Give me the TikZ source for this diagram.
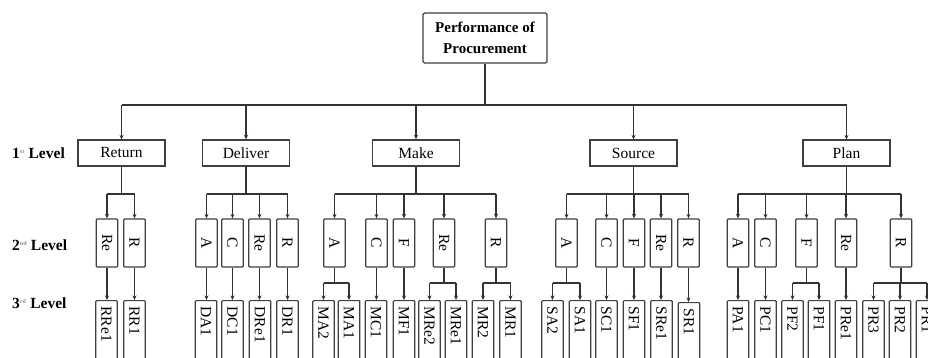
\documentclass[tikz,border=0pt]{standalone}
\usepackage{fontspec}
\setmainfont{Liberation Serif}
\usetikzlibrary{arrows.meta}
\tikzset{
  ln/.style={draw=black!80, line width=1.35pt},
  arr/.style={ln, -{Stealth[length=4.5pt,width=4pt]}},
  topbox/.style={draw=black!75, line width=1.2pt, rounded corners=1.5pt, minimum width=124pt, minimum height=50pt, inner sep=0pt, align=center, font=\fontsize{15}{21}\selectfont\bfseries},
  lvone/.style={draw=black!75, line width=1.2pt, minimum width=87pt, minimum height=26pt, inner sep=0pt, font=\fontsize{15.5}{16}\selectfont},
  lvtwo/.style={draw=black!75, line width=1.2pt, rounded corners=1pt, minimum width=21.5pt, minimum height=48pt, inner sep=0pt, font=\fontsize{15.5}{16}\selectfont},
  lvthree/.style={draw=black!75, line width=1.2pt, rounded corners=1pt, anchor=north, minimum width=21.5pt, minimum height=82pt, inner sep=0pt, font=\fontsize{15.5}{16}\selectfont},
  lvlab/.style={anchor=west, inner sep=0pt, font=\fontsize{15.5}{16}\selectfont\bfseries},
}
\newcommand{\vt}[1]{\rotatebox{-90}{#1}}
\newcommand{\vtt}[1]{\rotatebox{-90}{\makebox[70pt][l]{#1}}}
\newcommand{\sups}[1]{\textsuperscript{\textcolor{black!45}{\fontsize{6}{6}\selectfont #1}}}
\begin{document}
\begin{tikzpicture}[x=1pt,y=-1pt]
\useasboundingbox (0,0) rectangle (928,358);
\clip (0,0) rectangle (928,358);
\fill[white] (0,0) rectangle (928,358);
% top
\node[topbox] (top) at (485,38) {Performance of\\Procurement};
% level labels
\node[lvlab] (l1) at (12,153) {1\sups{st} Level};
\node[lvlab] (l2) at (12,245) {2\sups{nd} Level};
\node[lvlab] (l3) at (12,303) {3\sups{rd} Level};
% level 1
\node[lvone] (ret) at (121.5,153) {Return};
\node[lvone] (del) at (246,153) {Deliver};
\node[lvone] (mak) at (416,153) {Make};
\node[lvone] (sou) at (633.5,153) {Source};
\node[lvone] (pla) at (846.5,153) {Plan};
\coordinate (b0) at (0,105);
\coordinate (b1) at (0,194);
\coordinate (b2) at (0,283);
\draw[ln] (top.south) -- (top.south |- b0);
\draw[ln] (ret.north |- b0) -- (pla.north |- b0);
\foreach \n in {ret,del,mak,sou,pla} \draw[arr] (\n.north |- b0) -- (\n.north);
% level 2
\node[lvtwo] (rRe) at (107,243) {\vt{Re}};
\node[lvtwo] (rR) at (134.5,243) {\vt{R}};
\node[lvtwo] (dA) at (206.5,243) {\vt{A}};
\node[lvtwo] (dC) at (232.5,243) {\vt{C}};
\node[lvtwo] (dRe) at (259.5,243) {\vt{Re}};
\node[lvtwo] (dR) at (287.5,243) {\vt{R}};
\node[lvtwo] (mA) at (334.5,243) {\vt{A}};
\node[lvtwo] (mC) at (376.5,243) {\vt{C}};
\node[lvtwo] (mF) at (404,243) {\vt{F}};
\node[lvtwo] (mRe) at (444,243) {\vt{Re}};
\node[lvtwo] (mR) at (496,243) {\vt{R}};
\node[lvtwo] (sA) at (566.5,243) {\vt{A}};
\node[lvtwo] (sC) at (606.5,243) {\vt{C}};
\node[lvtwo] (sF) at (634,243) {\vt{F}};
\node[lvtwo] (sRe) at (661,243) {\vt{Re}};
\node[lvtwo] (sR) at (688.5,243) {\vt{R}};
\node[lvtwo] (pA) at (738,243) {\vt{A}};
\node[lvtwo] (pC) at (765.5,243) {\vt{C}};
\node[lvtwo] (pF) at (806.5,243) {\vt{F}};
\node[lvtwo] (pRe) at (846,243) {\vt{Re}};
\node[lvtwo] (pR) at (901,243) {\vt{R}};
% level1 -> level2 buses
\foreach \p/\a/\z/\kids in {ret/rRe/rR/{rRe,rR}, del/dA/dR/{dA,dC,dRe,dR}, mak/mA/mR/{mA,mC,mF,mRe,mR}, sou/sA/sR/{sA,sC,sF,sRe,sR}, pla/pA/pR/{pA,pC,pF,pRe,pR}} {
  \draw[ln] (\p.south) -- (\p.south |- b1);
  \draw[ln] (\a.north |- b1) -- (\z.north |- b1);
  \foreach \k in \kids \draw[arr] (\k.north |- b1) -- (\k.north);
}
% level 3
\node[lvthree] (RRe1) at (106.5,300) {\vtt{RRe1}};
\node[lvthree] (RR1) at (134.5,300) {\vtt{RR1}};
\node[lvthree] (DA1) at (206,300) {\vtt{DA1}};
\node[lvthree] (DC1) at (232.5,300) {\vtt{DC1}};
\node[lvthree] (DRe1) at (260,300) {\vtt{DRe1}};
\node[lvthree] (DR1) at (287.5,300) {\vtt{DR1}};
\node[lvthree] (MA2) at (323.5,300) {\vtt{MA2}};
\node[lvthree] (MA1) at (349,300) {\vtt{MA1}};
\node[lvthree] (MC1) at (376,300) {\vtt{MC1}};
\node[lvthree] (MF1) at (404,300) {\vtt{MF1}};
\node[lvthree] (MRe2) at (429.5,300) {\vtt{MRe2}};
\node[lvthree] (MRe1) at (456,300) {\vtt{MRe1}};
\node[lvthree] (MR2) at (483,300) {\vtt{MR2}};
\node[lvthree] (MR1) at (510.5,300) {\vtt{MR1}};
\node[lvthree] (SA2) at (552.5,300) {\vtt{SA2}};
\node[lvthree] (SA1) at (580,300) {\vtt{SA1}};
\node[lvthree] (SC1) at (606.5,300) {\vtt{SC1}};
\node[lvthree] (SF1) at (634,300) {\vtt{SF1}};
\node[lvthree] (SRe1) at (661.5,300) {\vtt{SRe1}};
\node[lvthree] (SR1) at (689,302) {\vtt{SR1}};
\node[lvthree] (PA1) at (738,300) {\vtt{PA1}};
\node[lvthree] (PC1) at (765.5,300) {\vtt{PC1}};
\node[lvthree] (PF2) at (792.5,300) {\vtt{PF2}};
\node[lvthree] (PF1) at (819,300) {\vtt{PF1}};
\node[lvthree] (PRe1) at (846,300) {\vtt{PRe1}};
\node[lvthree] (PR3) at (873.5,300) {\vtt{PR3}};
\node[lvthree] (PR2) at (900,300) {\vtt{PR2}};
\node[lvthree] (PR1) at (927,300) {\vtt{PR1}};
% straight links
\foreach \a/\b in {rRe/RRe1, rR/RR1, dA/DA1, dC/DC1, dRe/DRe1, dR/DR1, mC/MC1, mF/MF1, sC/SC1, sF/SF1, sRe/SRe1, sR/SR1, pA/PA1, pC/PC1, pRe/PRe1}
  \draw[arr] (\a.south) -- (\a.south |- \b.north);
% sub buses
\foreach \p/\a/\z/\kids in {mA/MA2/MA1/{MA2,MA1}, mRe/MRe2/MRe1/{MRe2,MRe1}, mR/MR2/MR1/{MR2,MR1}, sA/SA2/SA1/{SA2,SA1}, pF/PF2/PF1/{PF2,PF1}, pR/PR3/PR1/{PR3,PR2,PR1}} {
  \draw[ln] (\p.south) -- (\p.south |- b2);
  \draw[ln] (\a.north |- b2) -- (\z.north |- b2);
  \foreach \k in \kids \draw[arr] (\k.north |- b2) -- (\k.north);
}
\end{tikzpicture}
\end{document}
